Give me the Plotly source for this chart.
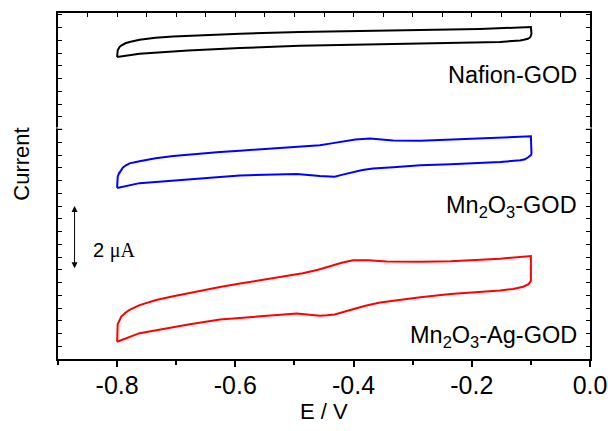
import plotly.graph_objects as go

# ---- data (E in V, current in µA with vertical offsets) ----
naf_E = [-0.800, -0.800, -0.799, -0.796, -0.793, -0.786, -0.779, -0.762, -0.735, -0.705, -0.650, -0.592, -0.491,
         -0.321, -0.186, -0.100,
         -0.099, -0.101, -0.105, -0.112, -0.118, -0.152, -0.321, -0.491, -0.592, -0.680, -0.762, -0.800]
naf_I = [9.48, 9.53, 9.69, 9.79, 9.84, 9.91, 9.95, 10.02, 10.08, 10.12, 10.17, 10.21, 10.26,
         10.31, 10.36, 10.42,
         10.21, 10.10, 10.05, 10.02, 10.00, 9.95, 9.90, 9.83, 9.76, 9.68, 9.58, 9.48]

mn_E = [-0.800, -0.800, -0.799, -0.797, -0.794, -0.790, -0.785, -0.779, -0.762, -0.735, -0.705, -0.660, -0.626,
        -0.592, -0.558, -0.496, -0.457, -0.440, -0.423, -0.397, -0.372, -0.355, -0.333, -0.287, -0.236, -0.152,
        -0.100,
        -0.099, -0.100, -0.104, -0.110, -0.118, -0.152, -0.236, -0.287, -0.333, -0.367, -0.385, -0.401,
        -0.420, -0.432, -0.445, -0.457, -0.496, -0.558, -0.592, -0.626, -0.705, -0.762, -0.800]
mn_I = [5.37, 5.61, 5.72, 5.82, 5.92, 6.01, 6.08, 6.14, 6.21, 6.30, 6.37, 6.45, 6.50,
        6.54, 6.58, 6.65, 6.71, 6.76, 6.81, 6.89, 6.92, 6.90, 6.86, 6.85, 6.89, 6.94,
        6.99,
        6.45, 6.40, 6.34, 6.27, 6.24, 6.18, 6.11, 6.08, 6.02, 5.98, 5.93, 5.87,
        5.78, 5.72, 5.72, 5.74, 5.81, 5.79, 5.76, 5.71, 5.61, 5.52, 5.37]

ag_E = [-0.800, -0.800, -0.799, -0.797, -0.793, -0.786, -0.779, -0.762, -0.734, -0.705, -0.677, -0.626, -0.592,
        -0.540, -0.486, -0.460, -0.440, -0.420, -0.401, -0.375, -0.344, -0.287, -0.236, -0.152, -0.100,
        -0.099, -0.100, -0.104, -0.113, -0.130, -0.152, -0.236, -0.287, -0.355, -0.380, -0.401, -0.420,
        -0.432, -0.445, -0.457, -0.496, -0.558, -0.592, -0.626, -0.677, -0.720, -0.762, -0.800]
ag_I = [0.54, 1.01, 1.10, 1.17, 1.33, 1.45, 1.54, 1.69, 1.85, 1.97, 2.08, 2.26, 2.37,
        2.52, 2.69, 2.80, 2.92, 3.02, 3.10, 3.10, 3.06, 3.05, 3.07, 3.15, 3.23,
        2.54, 2.45, 2.35, 2.27, 2.20, 2.15, 2.04, 1.94, 1.77, 1.67, 1.56, 1.46,
        1.40, 1.37, 1.36, 1.43, 1.34, 1.28, 1.24, 1.09, 0.96, 0.81, 0.54]

x_ticks = [-0.8, -0.6, -0.4, -0.2, 0.0]
x_ticktext = ["-0.8", "-0.6", "-0.4", "-0.2", "0.0"]
axis_break_y = 7.25  # where the stacked panels meet on the y axis

FONT = "Liberation Sans, Arial, sans-serif"

fig = go.Figure()
for E, I, col in [(naf_E, naf_I, "#000000"), (mn_E, mn_I, "#0000ff"), (ag_E, ag_I, "#ff0000")]:
    fig.add_trace(go.Scatter(x=E, y=I, mode="lines", line=dict(color=col, width=2),
                             showlegend=False, hoverinfo="skip"))
# invisible trace for the top axis
fig.add_trace(go.Scatter(x=[-0.9, 0.0], y=[0, 0], xaxis="x2", mode="markers", marker=dict(opacity=0),
                         showlegend=False, hoverinfo="skip"))

fig.update_layout(
    width=608, height=431, autosize=False,
    margin=dict(l=58, r=18, t=13, b=72),
    paper_bgcolor="white", plot_bgcolor="white",
    font=dict(family=FONT, size=22, color="black"),
    xaxis=dict(range=[-0.9, 0.0], tickvals=x_ticks, ticktext=x_ticktext, ticks="outside", ticklen=6,
               tickwidth=1.5, tickcolor="black", showline=True, linecolor="black", linewidth=2,
               showgrid=False, zeroline=False, mirror=False, automargin=False, ticklabelstandoff=-3,
               minor=dict(dtick=0.1, tick0=-0.9, ticks="outside", ticklen=4, tickwidth=1.5, tickcolor="black",
                          showgrid=False),
               tickfont=dict(size=25)),
    xaxis2=dict(range=[-0.9, 0.0], overlaying="x", side="top", ticks="inside", dtick=0.05, tick0=-0.9,
                ticklen=4, tickwidth=1, tickcolor="black", showticklabels=False, showline=True,
                linecolor="black", linewidth=2, showgrid=False, zeroline=False, automargin=False),
    yaxis=dict(range=[0, 10.86], ticks="inside", dtick=0.4, tick0=0, ticklen=4, tickwidth=1, tickcolor="black",
               showticklabels=False, showline=True, linecolor="black", linewidth=2, mirror="ticks",
               showgrid=False, zeroline=False, automargin=False),
)

# small axis-break marks on both y axes
shapes = []
for xp, d in [(0.0, 1), (1.0, -1)]:
    shapes.append(dict(type="line", xref="paper", yref="y", x0=xp, x1=xp, y0=axis_break_y - 0.02,
                       y1=axis_break_y + 0.02, line=dict(color="white", width=3), layer="above"))
    shapes.append(dict(type="line", xref="paper", yref="y", x0=xp - d * 0.002, x1=xp + d * 0.008,
                       y0=axis_break_y - 0.04, y1=axis_break_y - 0.04, line=dict(color="black", width=1),
                       layer="above"))
fig.update_layout(shapes=shapes)

ann = []
ann.append(dict(text="E / V", x=0.5, y=-0.153, xref="paper", yref="paper", showarrow=False,
                font=dict(size=22), xanchor="center", yanchor="middle"))
ann.append(dict(text="Current", x=-0.068, y=0.564, xref="paper", yref="paper", showarrow=False,
                font=dict(size=22), textangle=-90, xanchor="center", yanchor="middle"))
ann.append(dict(text="Nafion-GOD", x=0.979, y=0.821, xref="paper", yref="paper", showarrow=False,
                font=dict(size=23.5), xanchor="right", yanchor="middle"))
ann.append(dict(text="Mn<sub>2</sub>O<sub>3</sub>-GOD", x=0.979, y=0.44, xref="paper", yref="paper",
                showarrow=False, font=dict(size=23.5), xanchor="right", yanchor="middle"))
ann.append(dict(text="Mn<sub>2</sub>O<sub>3</sub>-Ag-GOD", x=0.979, y=0.065, xref="paper", yref="paper",
                showarrow=False, font=dict(size=23.5), xanchor="right", yanchor="middle"))
# 2 µA scale bar
ann.append(dict(x=-0.872, y=4.8, ax=-0.872, ay=2.8, xref="x", yref="y", axref="x", ayref="y", text="",
                showarrow=True, arrowhead=2, arrowside="end+start", arrowsize=1.2, arrowwidth=1,
                arrowcolor="black"))
ann.append(dict(text="2 <span style='font-family:Liberation Serif, Times New Roman, serif'>μA</span>",
                x=-0.844, y=3.42, xref="x", yref="y", showarrow=False, font=dict(size=20),
                xanchor="left", yanchor="middle"))
fig.update_layout(annotations=ann)

fig.write_html("out.html")
